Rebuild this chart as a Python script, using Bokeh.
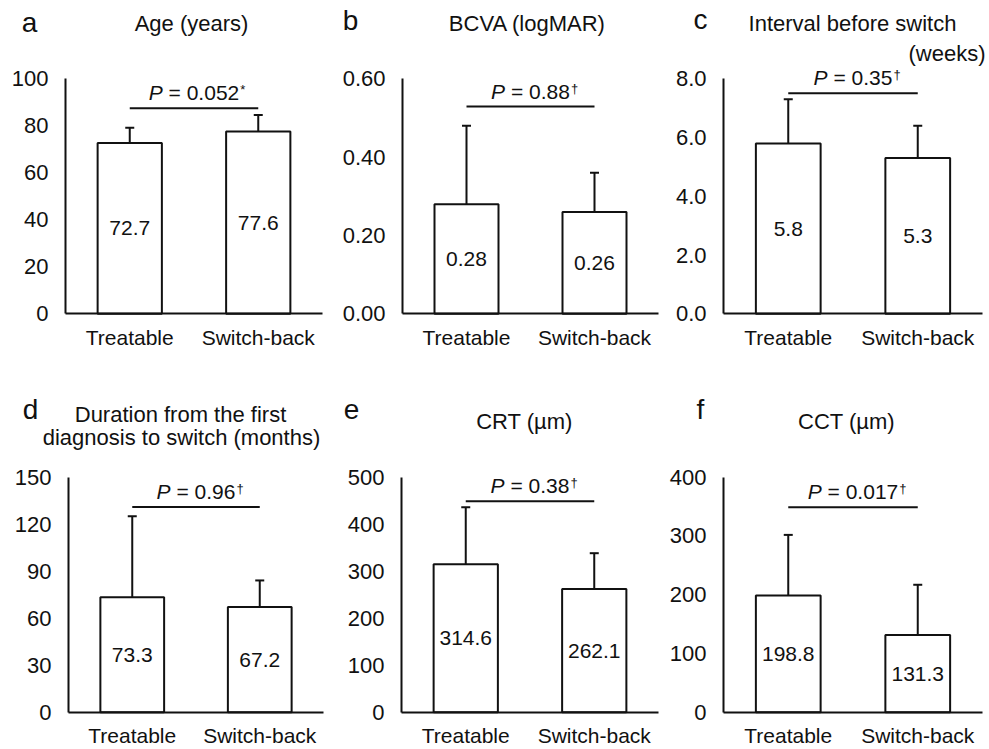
from bokeh.plotting import figure
from bokeh.models import ColumnDataSource, Range1d, FixedTicker, Whisker, TeeHead
from bokeh.layouts import row, column
from bokeh.core.properties import value
from bokeh.embed import file_html
from bokeh.resources import INLINE

# ---------------- data ----------------
groups = ["Treatable", "Switch-back"]

age_mean = [72.7, 77.6]
age_sd = [6.5, 7.0]
bcva_mean = [0.28, 0.26]
bcva_sd = [0.20, 0.10]
interval_mean = [5.8, 5.3]
interval_sd = [1.5, 1.1]
duration_mean = [73.3, 67.2]
duration_sd = [51.8, 16.9]
crt_mean = [314.6, 262.1]
crt_sd = [121.5, 76.2]
cct_mean = [198.8, 131.3]
cct_sd = [103.0, 85.6]

age_ticks = [0, 20, 40, 60, 80, 100]
age_tick_labels = ["0", "20", "40", "60", "80", "100"]
bcva_ticks = [0.0, 0.2, 0.4, 0.6]
bcva_tick_labels = ["0.00", "0.20", "0.40", "0.60"]
interval_ticks = [0.0, 2.0, 4.0, 6.0, 8.0]
interval_tick_labels = ["0.0", "2.0", "4.0", "6.0", "8.0"]
duration_ticks = [0, 30, 60, 90, 120, 150]
duration_tick_labels = ["0", "30", "60", "90", "120", "150"]
crt_ticks = [0, 100, 200, 300, 400, 500]
crt_tick_labels = ["0", "100", "200", "300", "400", "500"]
cct_ticks = [0, 100, 200, 300, 400]
cct_tick_labels = ["0", "100", "200", "300", "400"]

p_values = ["0.052", "0.88", "0.35", "0.96", "0.38", "0.017"]
p_marks = ["*", "\u2020", "\u2020", "\u2020", "\u2020", "\u2020"]
bracket_levels = [87.5, 0.529, 7.51, 130.9, 449.0, 349.0]

# ---------------- style / layout ----------------
FONT = "Liberation Sans"
INK = "#111111"
NB = "\u00a0"
ARIAL_W = {" ": .278, NB: .278, ".": .278, "=": .584, "P": .667}
AXIS_PX = 235      # pixels from 0 to the top tick
MID = 0.35         # em-box middle above the baseline, in em


def tw(s, size):
    return sum(ARIAL_W.get(c, .556) for c in s) * size


def make_panel(width, height, zero_px, left_px, right_px, letter, letter_pos,
               titles, means, sds, ticks, tick_labels, fmt, idx, cat_standoff):
    n = len(groups)
    ymax = ticks[-1]
    unit = (right_px - left_px) / n          # px per category
    x_start = -left_px / unit
    x_end = n + (width - right_px) / unit
    ypx = AXIS_PX / ymax                     # px per y unit
    y_end = zero_px / ypx
    y_start = -(height - zero_px) / ypx

    def cx(px):
        return x_start + px / unit

    def cy(py):
        return (zero_px - py) / ypx

    p = figure(width=width, height=height, x_range=Range1d(x_start, x_end),
               y_range=Range1d(y_start, y_end), min_border=0,
               output_backend="svg", toolbar_location=None,
               outline_line_color=None, background_fill_color="white",
               border_fill_color="white")
    p.grid.visible = False

    xs = [i + 0.5 for i in range(n)]
    src = ColumnDataSource(dict(
        x=xs, mean=means,
        upper=[m + s for m, s in zip(means, sds)],
        mid=[m / 2 for m in means],
        label=[fmt.format(m) for m in means]))

    p.vbar(x="x", top="mean", width=0.5, source=src, fill_color="white",
           line_color=INK, line_width=2)
    wh = Whisker(source=src, base="x", lower="mean", upper="upper",
                 line_color=INK, line_width=2, level="overlay",
                 upper_head=TeeHead(size=9, line_color=INK, line_width=2),
                 lower_head=None)
    p.add_layout(wh)
    p.text(x="x", y="mid", text="label", source=src, text_align="center",
           text_baseline="middle", text_font=value(FONT),
           text_font_size="21px", text_color=INK)

    # significance bracket and P value
    by = bracket_levels[idx]
    p.segment(x0=[xs[0]], y0=[by], x1=[xs[-1]], y1=[by],
              line_color=INK, line_width=2)
    fs = 21
    rest = NB + "=" + NB + p_values[idx]
    wP = tw("P", fs)
    wR = tw(rest, fs)
    x0 = -(wP + wR) / 2
    xm = (xs[0] + xs[-1]) / 2
    gap = 8                                   # px between bracket and baseline
    ty = by + (gap + MID * fs) / ypx
    sy = by + (gap + 6 + MID * 13) / ypx
    p.text(x=[xm], y=[ty], text=["P"], x_offset=x0,
           text_font=value(FONT), text_font_size=f"{fs}px",
           text_font_style="italic", text_color=INK, text_align="left",
           text_baseline="middle")
    p.text(x=[xm], y=[ty], text=[rest], x_offset=x0 + wP,
           text_font=value(FONT), text_font_size=f"{fs}px", text_color=INK,
           text_align="left", text_baseline="middle")
    p.text(x=[xm], y=[sy], text=[p_marks[idx]], x_offset=x0 + wP + wR + 1,
           text_font=value(FONT), text_font_size="13px",
           text_color=INK, text_align="left", text_baseline="middle")

    # panel letter and title (positions given as text baselines in px)
    lx, ly = letter_pos
    p.text(x=[cx(lx)], y=[cy(ly - MID * 28)], text=[letter],
           text_font=value(FONT), text_font_size="28px", text_color=INK,
           text_align="center", text_baseline="middle")
    for txt, tx, tyb, align in titles:
        p.text(x=[cx(tx)], y=[cy(tyb - MID * 22)], text=[txt],
               text_font=value(FONT), text_font_size="22px", text_color=INK,
               text_align=align, text_baseline="middle")

    # axes (drawn at the data origin)
    xa = p.xaxis[0]
    xa.fixed_location = 0
    xa.bounds = (0, n)
    xa.ticker = FixedTicker(ticks=xs)
    xa.major_label_overrides = {x: g for x, g in zip(xs, groups)}
    xa.axis_line_width = 2
    xa.axis_line_color = INK
    xa.major_tick_line_color = None
    xa.major_tick_out = 0
    xa.major_tick_in = 0
    xa.minor_tick_line_color = None
    xa.major_label_text_font = FONT
    xa.major_label_text_font_size = "21px"
    xa.major_label_text_color = INK
    xa.major_label_standoff = cat_standoff

    ya = p.yaxis[0]
    ya.fixed_location = 0
    ya.bounds = (0, ymax)
    ya.ticker = FixedTicker(ticks=ticks)
    ya.major_label_overrides = {t: lab for t, lab in zip(ticks, tick_labels)}
    ya.axis_line_width = 2
    ya.axis_line_color = INK
    ya.major_tick_line_color = None
    ya.major_tick_out = 0
    ya.major_tick_in = 0
    ya.minor_tick_line_color = None
    ya.major_label_text_font = FONT
    ya.major_label_text_font_size = "22px"
    ya.major_label_text_color = INK
    ya.major_label_standoff = 17
    return p


pa = make_panel(330, 370, 313.3, 65, 322, "a", (29, 32),
                [("Age (years)", 191, 31, "center")],
                age_mean, age_sd, age_ticks, age_tick_labels, "{:.1f}", 0, 12)
pb = make_panel(330, 370, 313.3, 72, 328, "b", (20, 30),
                [("BCVA (logMAR)", 197, 31, "center")],
                bcva_mean, bcva_sd, bcva_ticks, bcva_tick_labels, "{:.2f}", 1, 12)
pc = make_panel(329, 370, 313.3, 63, 322, "c", (40, 29),
                [("Interval before switch", 192, 31, "center"),
                 ("(weeks)", 325, 61, "right")],
                interval_mean, interval_sd, interval_ticks,
                interval_tick_labels, "{:.1f}", 2, 12)
pd_ = make_panel(330, 379, 341.7, 68, 323, "d", (30, 49),
                 [("Duration from the first", 180, 52, "center"),
                  ("diagnosis to switch (months)", 181, 75, "center")],
                 duration_mean, duration_sd, duration_ticks,
                 duration_tick_labels, "{:.1f}", 3, 12)
pe = make_panel(330, 379, 341.7, 71, 328, "e", (21, 49),
                [("CRT (\u00b5m)", 194, 59, "center")],
                crt_mean, crt_sd, crt_ticks, crt_tick_labels, "{:.1f}", 4, 12)
pf = make_panel(329, 379, 341.7, 63, 322, "f", (40, 49),
                [("CCT (\u00b5m)", 186, 59, "center")],
                cct_mean, cct_sd, cct_ticks, cct_tick_labels, "{:.1f}", 5, 12)

layout = column(row(pa, pb, pc, spacing=0), row(pd_, pe, pf, spacing=0),
                spacing=0)
open("out.html", "w").write(file_html(layout, INLINE))
